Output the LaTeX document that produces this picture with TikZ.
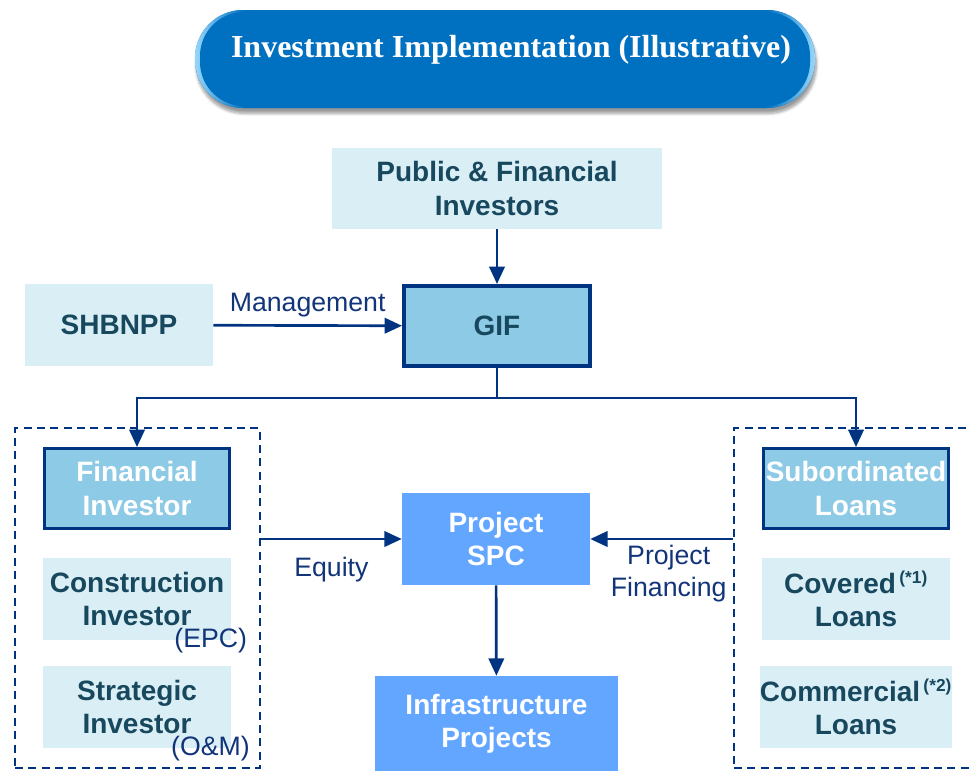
\documentclass[tikz,border=0pt]{standalone}
\usepackage{xcolor}
\usepackage{fontspec}
\setmainfont{Liberation Sans}
\newfontfamily\bannerfont{Liberation Serif}
\usepackage{tikz}
\usetikzlibrary{shapes,arrows,arrows.meta,shadows.blur}
\definecolor{titleblue}{RGB}{0,112,192}
\definecolor{edgeblue}{RGB}{150,215,250}
\definecolor{paleblue}{RGB}{218,238,246}
\definecolor{skyblue}{RGB}{141,202,230}
\definecolor{spcblue}{RGB}{99,166,255}
\definecolor{navy}{RGB}{0,51,128}
\definecolor{tealtext}{RGB}{23,72,94}
\definecolor{labelblue}{RGB}{18,52,120}
% bright rim only at the two rounded ends of the banner
\pgfdeclarehorizontalshading{bannerrim}{100bp}{color(0bp)=(edgeblue); color(25bp)=(edgeblue); color(29bp)=(titleblue); color(71bp)=(titleblue); color(75bp)=(edgeblue); color(100bp)=(edgeblue)}
\tikzstyle{base} = [rectangle, inner sep=0pt, align=center, font=\fontsize{21}{25}\selectfont\bfseries]
\tikzstyle{pale} = [base, fill=paleblue, text=tealtext, minimum width=141pt, minimum height=61.5pt]
\tikzstyle{keybox} = [base, fill=skyblue, draw=navy, line width=2.25pt, text=white, minimum width=138.75pt, minimum height=60pt]
\tikzstyle{spcbox} = [base, fill=spcblue, text=white]
\tikzstyle{group} = [rectangle, draw=navy, line width=1.6pt, dash pattern=on 6pt off 4pt]
\tikzstyle{tag} = [inner sep=0pt, text=labelblue, align=center, font=\fontsize{20}{24}\selectfont]
\tikzstyle{arrow} = [line width=2pt, draw=navy, ->, >={Triangle[length=13pt,width=11.5pt]}]
\tikzstyle{line} = [line width=2pt, draw=navy]

\begin{document}
\begin{tikzpicture}[x=0.75pt, y=-0.75pt]
    \useasboundingbox (0,0) rectangle (970,771);

    % banner
    \path[blur shadow={shadow xshift=1pt, shadow yshift=-4pt, shadow blur steps=8}, fill=titleblue, rounded corners=36pt] (195,10) rectangle (815,108);
    \shade[shading=bannerrim, rounded corners=36pt] (195,10) rectangle (815,108);
    \fill[titleblue, rounded corners=33pt] (200,12) rectangle (810,106);
    \node[text=white, font=\fontsize{24}{28}\selectfont\bannerfont\bfseries] (title) at (511,50) {Investment Implementation (Illustrative)};

    % top of the structure
    \node[pale, minimum width=247.5pt, minimum height=60.75pt] (pub) at (497,188.5) {Public \& Financial\\Investors};
    \node[keybox, text=tealtext, line width=3pt, minimum width=139.5pt] (gif) at (497,326) {GIF};
    \node[pale] (shb) at (119,325) {SHBNPP};

    \draw[arrow] (pub) -- (gif);
    \draw[arrow] (shb) -- node[tag, above=5pt] (mgmt) {Management} (gif);

    % investor side
    \node[group, minimum width=183.75pt, minimum height=255pt] (leftgrp) at (137.5,598) {};
    \node[keybox] (fin) at (137,488.5) {Financial\\Investor};
    \node[pale] (cons) at (137,599) {Construction\\Investor};
    \node[pale] (strat) at (137,707) {Strategic\\Investor};
    \node[tag, anchor=east] (epc) at ([xshift=12pt]cons.south east) {(EPC)};
    \node[tag, anchor=east] (om) at ([xshift=14pt, yshift=-0.5pt]strat.south east) {(O\&M)};

    % lender side
    \node[group, minimum width=184.5pt, minimum height=255pt] (rightgrp) at (857,598) {};
    \node[keybox] (sub) at (856,488.5) {Subordinated\\Loans};
    \node[pale] (cov) at (856,599) {Covered\textsuperscript{\,\fontsize{13}{13}\selectfont(*1)}\\Loans};
    \node[pale] (com) at (856,707) {Commercial\textsuperscript{\,\fontsize{13}{13}\selectfont(*2)}\\Loans};

    % fork from GIF
    \coordinate (fork) at (497,398);
    \draw[line] (gif) -- (fork);
    \draw[arrow] (fork) -| (fin.north);
    \draw[arrow] (fork) -| (sub.north);

    % project vehicle
    \node[spcbox, minimum width=141pt, minimum height=69pt] (spc) at (496,539) {Project\\SPC};
    \node[spcbox, minimum width=182.25pt, minimum height=71.25pt] (infra) at (496.5,723.5) {Infrastructure\\Projects};

    \draw[arrow] (leftgrp.east |- spc.west) -- node[tag, below=13pt] (equity) {Equity} (spc.west);
    \draw[arrow] (rightgrp.west |- spc.east) -- node[tag, below=4pt, pos=0.45] (pf) {Project\\Financing} (spc.east);
    \draw[arrow] (spc) -- (infra);
\end{tikzpicture}
\end{document}
